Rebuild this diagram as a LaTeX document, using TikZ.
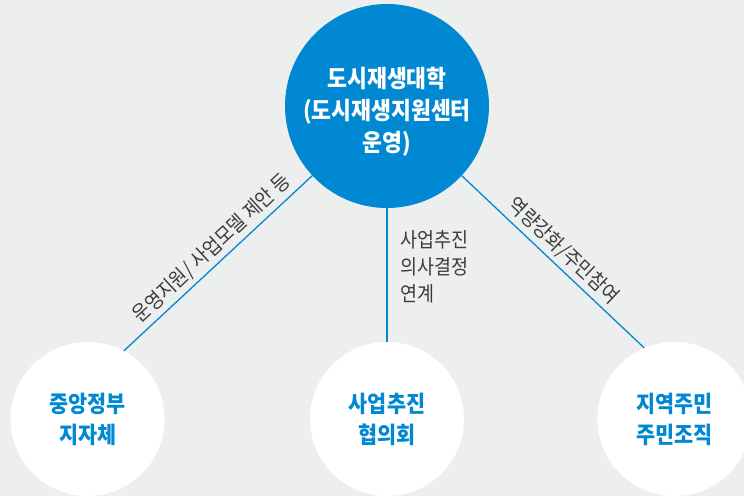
\documentclass[tikz,border=0pt]{standalone}
\usepackage{fontspec}
\setmainfont{Noto Sans CJK KR}
\newfontfamily\narrowkr{Noto Sans CJK KR}[FakeStretch=0.9]
\usetikzlibrary{positioning}
\definecolor{hubblue}{RGB}{0,137,210}
\definecolor{bggray}{RGB}{237,238,238}
\definecolor{lblgray}{RGB}{60,60,60}

\begin{document}
\begin{tikzpicture}[x=1pt, y=-1pt,
  hub/.style={circle, fill=hubblue, text=white, minimum size=204pt, inner sep=0pt,
              align=center, font=\narrowkr\fontsize{24}{32}\selectfont\bfseries},
  party/.style={circle, fill=white, text=hubblue, minimum size=154pt, inner sep=0pt,
                align=center, font=\narrowkr\fontsize{23}{31}\selectfont\bfseries},
  lbl/.style={text=lblgray, font=\narrowkr\fontsize{20.5}{27}\selectfont, inner sep=4pt},
  link/.style={draw=hubblue, line width=1.3pt}]
  \useasboundingbox (0,0) rectangle (744,496);
  \fill[bggray] (0,0) rectangle (744,496);
  \node[hub] (univ) at (387,106) {\rule{0pt}{32pt}도시재생대학\\(도시재생지원센터\\운영)};
  \node[party] (council) at (387,419) {사업추진\\협의회};
  \node[party, left=145pt of council] (gov) {중앙정부\\지자체};
  \node[party, right=133pt of council] (resid) {지역주민\\주민조직};
  \draw[link] (gov.62) -- node[lbl, above, sloped, pos=0.52] {운영지원/ 사업모델 제안 등} (univ.-137);
  \draw[link] (univ.south) -- node[lbl, right, align=left, xshift=9pt, pos=0.44] {사업추진\\의사결정\\연계} (council.north);
  \draw[link] (univ.-43) -- node[lbl, above, sloped, pos=0.5] {역량강화/주민참여} (resid.113);
\end{tikzpicture}
\end{document}
